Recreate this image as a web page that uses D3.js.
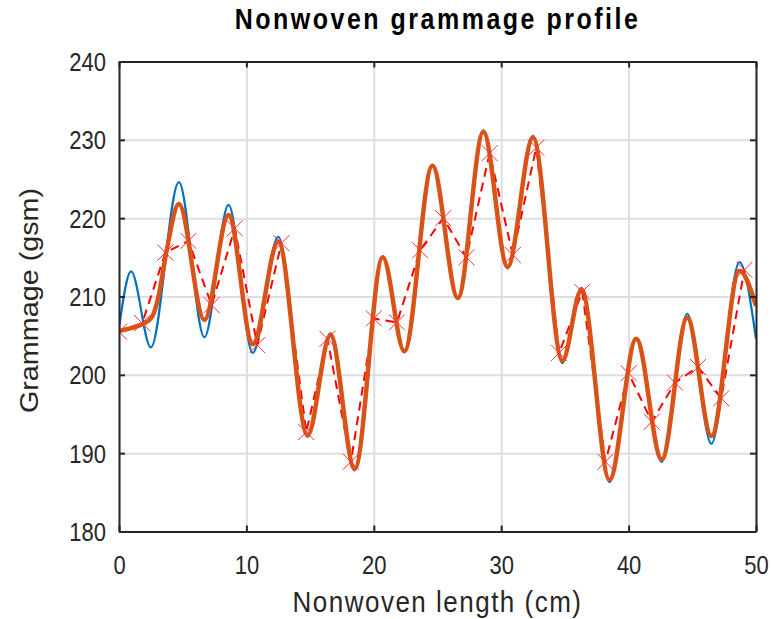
<!DOCTYPE html>
<html>
<head>
<meta charset="utf-8">
<script src="https://cdn.jsdelivr.net/npm/d3@7"></script>
<style>
  body { margin: 0; background: #fff; }
  text { font-family: "Liberation Sans", Arial, Helvetica, sans-serif; }
</style>
</head>
<body>
<div id="chart"></div>
<script>
// Nonwoven grammage profile

// Data
// measured profile (blue) - peaks and valleys
var measX = [0, 0.95, 2.5, 4.7, 6.7, 8.6, 10.5, 12.5, 14.8, 16.6, 18.5, 20.7, 22.4, 24.6, 26.6, 28.6, 30.5, 32.5, 34.8, 36.3, 38.5, 40.6, 42.6, 44.6, 46.5, 48.7, 50];
var measY = [206.0, 213.2, 203.5, 224.6, 204.8, 221.7, 202.8, 217.6, 192.1, 205.3, 187.8, 215.1, 202.9, 226.8, 209.7, 231.2, 213.6, 230.5, 201.5, 211.1, 186.3, 204.7, 188.9, 207.8, 191.2, 214.4, 204.6];

// estimated profile (orange)
var estX = [0, 1.0, 1.9, 2.6, 3.1, 3.7, 4.7, 6.7, 8.6, 10.5, 12.5, 14.8, 16.6, 18.5, 20.7, 22.4, 24.6, 26.6, 28.6, 30.5, 32.5, 34.8, 36.3, 38.5, 40.6, 42.6, 44.6, 46.5, 48.7, 50];
var estY = [205.6, 206.0, 206.5, 207.4, 210.0, 215.5, 221.8, 207.0, 220.4, 203.9, 217.0, 192.3, 205.1, 188.0, 215.0, 203.0, 226.7, 209.8, 231.0, 213.8, 230.3, 201.8, 210.9, 186.6, 204.6, 189.2, 207.3, 192.2, 213.3, 208.8];

// sampled points (red x markers)
var sampX = [0, 1.82, 3.64, 5.45, 7.27, 9.09, 10.85, 12.75, 14.7, 16.36, 18.2, 20.0, 21.82, 23.64, 25.45, 27.27, 29.09, 30.91, 32.75, 34.55, 36.36, 38.18, 40.0, 41.82, 43.64, 45.45, 47.27, 49.09];
var sampY = [205.5, 206.6, 215.6, 217.1, 208.9, 218.7, 203.8, 216.8, 192.7, 204.6, 188.9, 207.2, 206.7, 215.9, 220.0, 215.0, 228.3, 215.3, 229.0, 202.8, 210.6, 188.9, 200.2, 194.0, 199.0, 201.0, 197.0, 213.4];

var xTicks = [0, 10, 20, 30, 40, 50];
var yTicks = [180, 190, 200, 210, 220, 230, 240];

// SVG dimensions
var svgWidth = 771;
var svgHeight = 619;

var margin = { top: 61.5, right: 15, bottom: 87.5, left: 119 };
var width = svgWidth - margin.left - margin.right;
var height = svgHeight - margin.top - margin.bottom;

// text looks a bit stretched vertically in the original
var stretch = 1.15;

var svg = d3.select("#chart")
  .append("svg")
  .attr("width", svgWidth)
  .attr("height", svgHeight);

var chart = svg.append("g")
  .attr("transform", `translate(${margin.left}, ${margin.top})`);

// Scales
var xScale = d3.scaleLinear().domain([0, 50]).range([0, width]);
var yScale = d3.scaleLinear().domain([180, 240]).range([height, 0]);

// Grid
chart.append("g")
  .attr("transform", `translate(0,${height})`)
  .call(d3.axisBottom(xScale).tickValues(xTicks).tickSize(-height).tickFormat(""))
  .call(g => g.select(".domain").remove())
  .selectAll("line")
  .attr("stroke", "#dedede")
  .attr("stroke-width", 2);

chart.append("g")
  .call(d3.axisLeft(yScale).tickValues(yTicks).tickSize(-width).tickFormat(""))
  .call(g => g.select(".domain").remove())
  .selectAll("line")
  .attr("stroke", "#dedede")
  .attr("stroke-width", 2);

// Clip to plot area
svg.append("defs").append("clipPath")
  .attr("id", "plotClip")
  .append("rect")
  .attr("x", 0).attr("y", 0)
  .attr("width", width).attr("height", height);

var plot = chart.append("g").attr("clip-path", "url(#plotClip)");

var measured = measX.map((d, i) => ({ x: d, y: measY[i] }));
var estimated = estX.map((d, i) => ({ x: d, y: estY[i] }));
var sampled = sampX.map((d, i) => ({ x: d, y: sampY[i] }));

var smoothLine = d3.line()
  .x(d => xScale(d.x))
  .y(d => yScale(d.y))
  .curve(d3.curveMonotoneX);

var straightLine = d3.line()
  .x(d => xScale(d.x))
  .y(d => yScale(d.y));

plot.append("path")
  .datum(measured)
  .attr("d", smoothLine)
  .attr("fill", "none")
  .attr("stroke", "#0072BD")
  .attr("stroke-width", 2.2);

plot.append("path")
  .datum(sampled)
  .attr("d", straightLine)
  .attr("fill", "none")
  .attr("stroke", "#FF0000")
  .attr("stroke-width", 2)
  .attr("stroke-dasharray", "9,6");

plot.append("path")
  .datum(estimated)
  .attr("d", smoothLine)
  .attr("fill", "none")
  .attr("stroke", "#D95319")
  .attr("stroke-width", 4.5);

// x markers
var m = 8;
plot.append("g").selectAll("path")
  .data(sampled)
  .enter()
  .append("path")
  .attr("d", d => {
    var cx = xScale(d.x), cy = yScale(d.y);
    return `M${cx - m},${cy - m}L${cx + m},${cy + m}M${cx - m},${cy + m}L${cx + m},${cy - m}`;
  })
  .attr("stroke", "#FF3030")
  .attr("stroke-width", 1)
  .attr("fill", "none");

// Axes (ticks pointing inward, on all four sides)
var axisColor = "#262626";

var bottomAxis = chart.append("g")
  .attr("transform", `translate(0,${height})`)
  .call(d3.axisBottom(xScale).tickValues(xTicks).tickSizeInner(-6).tickSizeOuter(0));

var topAxis = chart.append("g")
  .call(d3.axisTop(xScale).tickValues(xTicks).tickSizeInner(-6).tickSizeOuter(0).tickFormat(""));

var leftAxis = chart.append("g")
  .call(d3.axisLeft(yScale).tickValues(yTicks).tickSizeInner(-6).tickSizeOuter(0));

var rightAxis = chart.append("g")
  .attr("transform", `translate(${width},0)`)
  .call(d3.axisRight(yScale).tickValues(yTicks).tickSizeInner(-6).tickSizeOuter(0).tickFormat(""));

[bottomAxis, topAxis, leftAxis, rightAxis].forEach(a => {
  a.select(".domain").attr("stroke", axisColor).attr("stroke-width", 2);
  a.selectAll(".tick line").attr("stroke", axisColor).attr("stroke-width", 2);
});

bottomAxis.selectAll("text")
  .attr("y", 0)
  .attr("dy", 0)
  .attr("transform", `translate(0,42) scale(1,${stretch})`)
  .attr("font-size", "22px")
  .attr("font-family", null)
  .attr("fill", axisColor);

leftAxis.selectAll("text")
  .attr("x", 0)
  .attr("dy", 0)
  .attr("text-anchor", "end")
  .attr("transform", `translate(-13,9) scale(1,${stretch})`)
  .attr("font-size", "22px")
  .attr("font-family", null)
  .attr("fill", axisColor);

// Labels
chart.append("text")
  .attr("transform", `translate(${width / 2}, ${height + 80}) scale(1,${stretch})`)
  .attr("text-anchor", "middle")
  .attr("font-size", "26px")
  .attr("letter-spacing", "1.5px")
  .attr("fill", axisColor)
  .text("Nonwoven length (cm)");

chart.append("text")
  .attr("transform", `translate(${-margin.left + 38}, ${height / 2 + 4}) rotate(-90) scale(${stretch},1)`)
  .attr("text-anchor", "middle")
  .attr("font-size", "25px")
  .attr("fill", axisColor)
  .text("Grammage (gsm)");

// Title
chart.append("text")
  .attr("transform", `translate(${width / 2}, ${-33}) scale(1,${stretch})`)
  .attr("text-anchor", "middle")
  .attr("font-size", "25px")
  .attr("letter-spacing", "2.5px")
  .attr("font-weight", "bold")
  .attr("fill", "#000")
  .text("Nonwoven grammage profile");
</script>
</body>
</html>
